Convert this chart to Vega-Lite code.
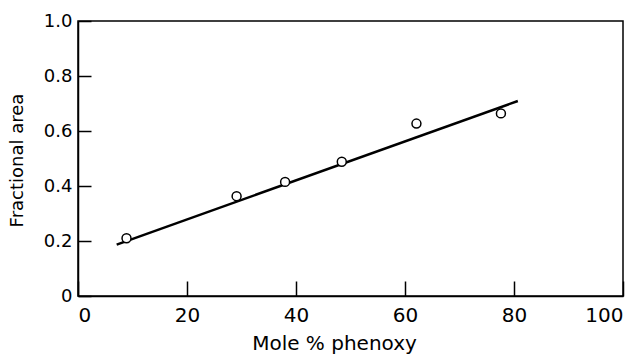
{
  "$schema": "https://vega.github.io/schema/vega-lite/v6.json",
  "autosize": {"type": "none"},
  "padding": {"left": 78, "top": 21, "right": 21, "bottom": 59},
  "width": 545,
  "height": 275,
  "background": "white",
  "config": {
    "view": {"stroke": "black", "strokeWidth": 1.5},
    "axis": {
      "domainColor": "black", "domainWidth": 1.5, "tickColor": "black", "tickWidth": 1.5, "zindex": 1,
      "grid": false, "labelFont": "DejaVu Sans", "labelFontSize": 18, "labelColor": "black",
      "titleFont": "DejaVu Sans", "titleFontSize": 18, "titleFontWeight": "normal", "titleColor": "black"
    }
  },
  "datasets": {
    "points": [
      {"x": 8.9, "y": 0.21},
      {"x": 29.1, "y": 0.363},
      {"x": 38.0, "y": 0.415},
      {"x": 48.4, "y": 0.488},
      {"x": 62.1, "y": 0.627},
      {"x": 77.6, "y": 0.664}
    ],
    "fit": [
      {"x": 7.1, "y": 0.187},
      {"x": 80.7, "y": 0.709}
    ]
  },
  "layer": [
    {
      "data": {"name": "fit"},
      "mark": {"type": "line", "color": "black", "strokeWidth": 2.5},
      "encoding": {
        "x": {"field": "x", "type": "quantitative", "scale": {"domain": [0, 100], "nice": false},
          "axis": {"title": "Mole % phenoxy", "values": [0, 20, 40, 60, 80, 100], "tickSize": -15, "labelPadding": 24, "labelFontSize": 20, "titleFontSize": 20, "titleX": 256, "titleY": 47, "titleBaseline": "middle"}},
        "y": {"field": "y", "type": "quantitative", "scale": {"domain": [0, 1], "nice": false},
          "axis": {"title": "Fractional area", "values": [0, 0.2, 0.4, 0.6, 0.8, 1.0], "labelExpr": "datum.value == 0 ? '0' : format(datum.value, '.1f')", "tickSize": -13, "labelPadding": 19, "titleX": -61, "titleY": 139, "titleBaseline": "middle", "titleAngle": -90}}
      }
    },
    {
      "data": {"name": "points"},
      "mark": {"type": "point", "shape": "circle", "filled": false, "fill": "white", "fillOpacity": 1, "stroke": "black", "strokeWidth": 1.5, "size": 80, "opacity": 1},
      "encoding": {
        "x": {"field": "x", "type": "quantitative"},
        "y": {"field": "y", "type": "quantitative"}
      }
    }
  ]
}
